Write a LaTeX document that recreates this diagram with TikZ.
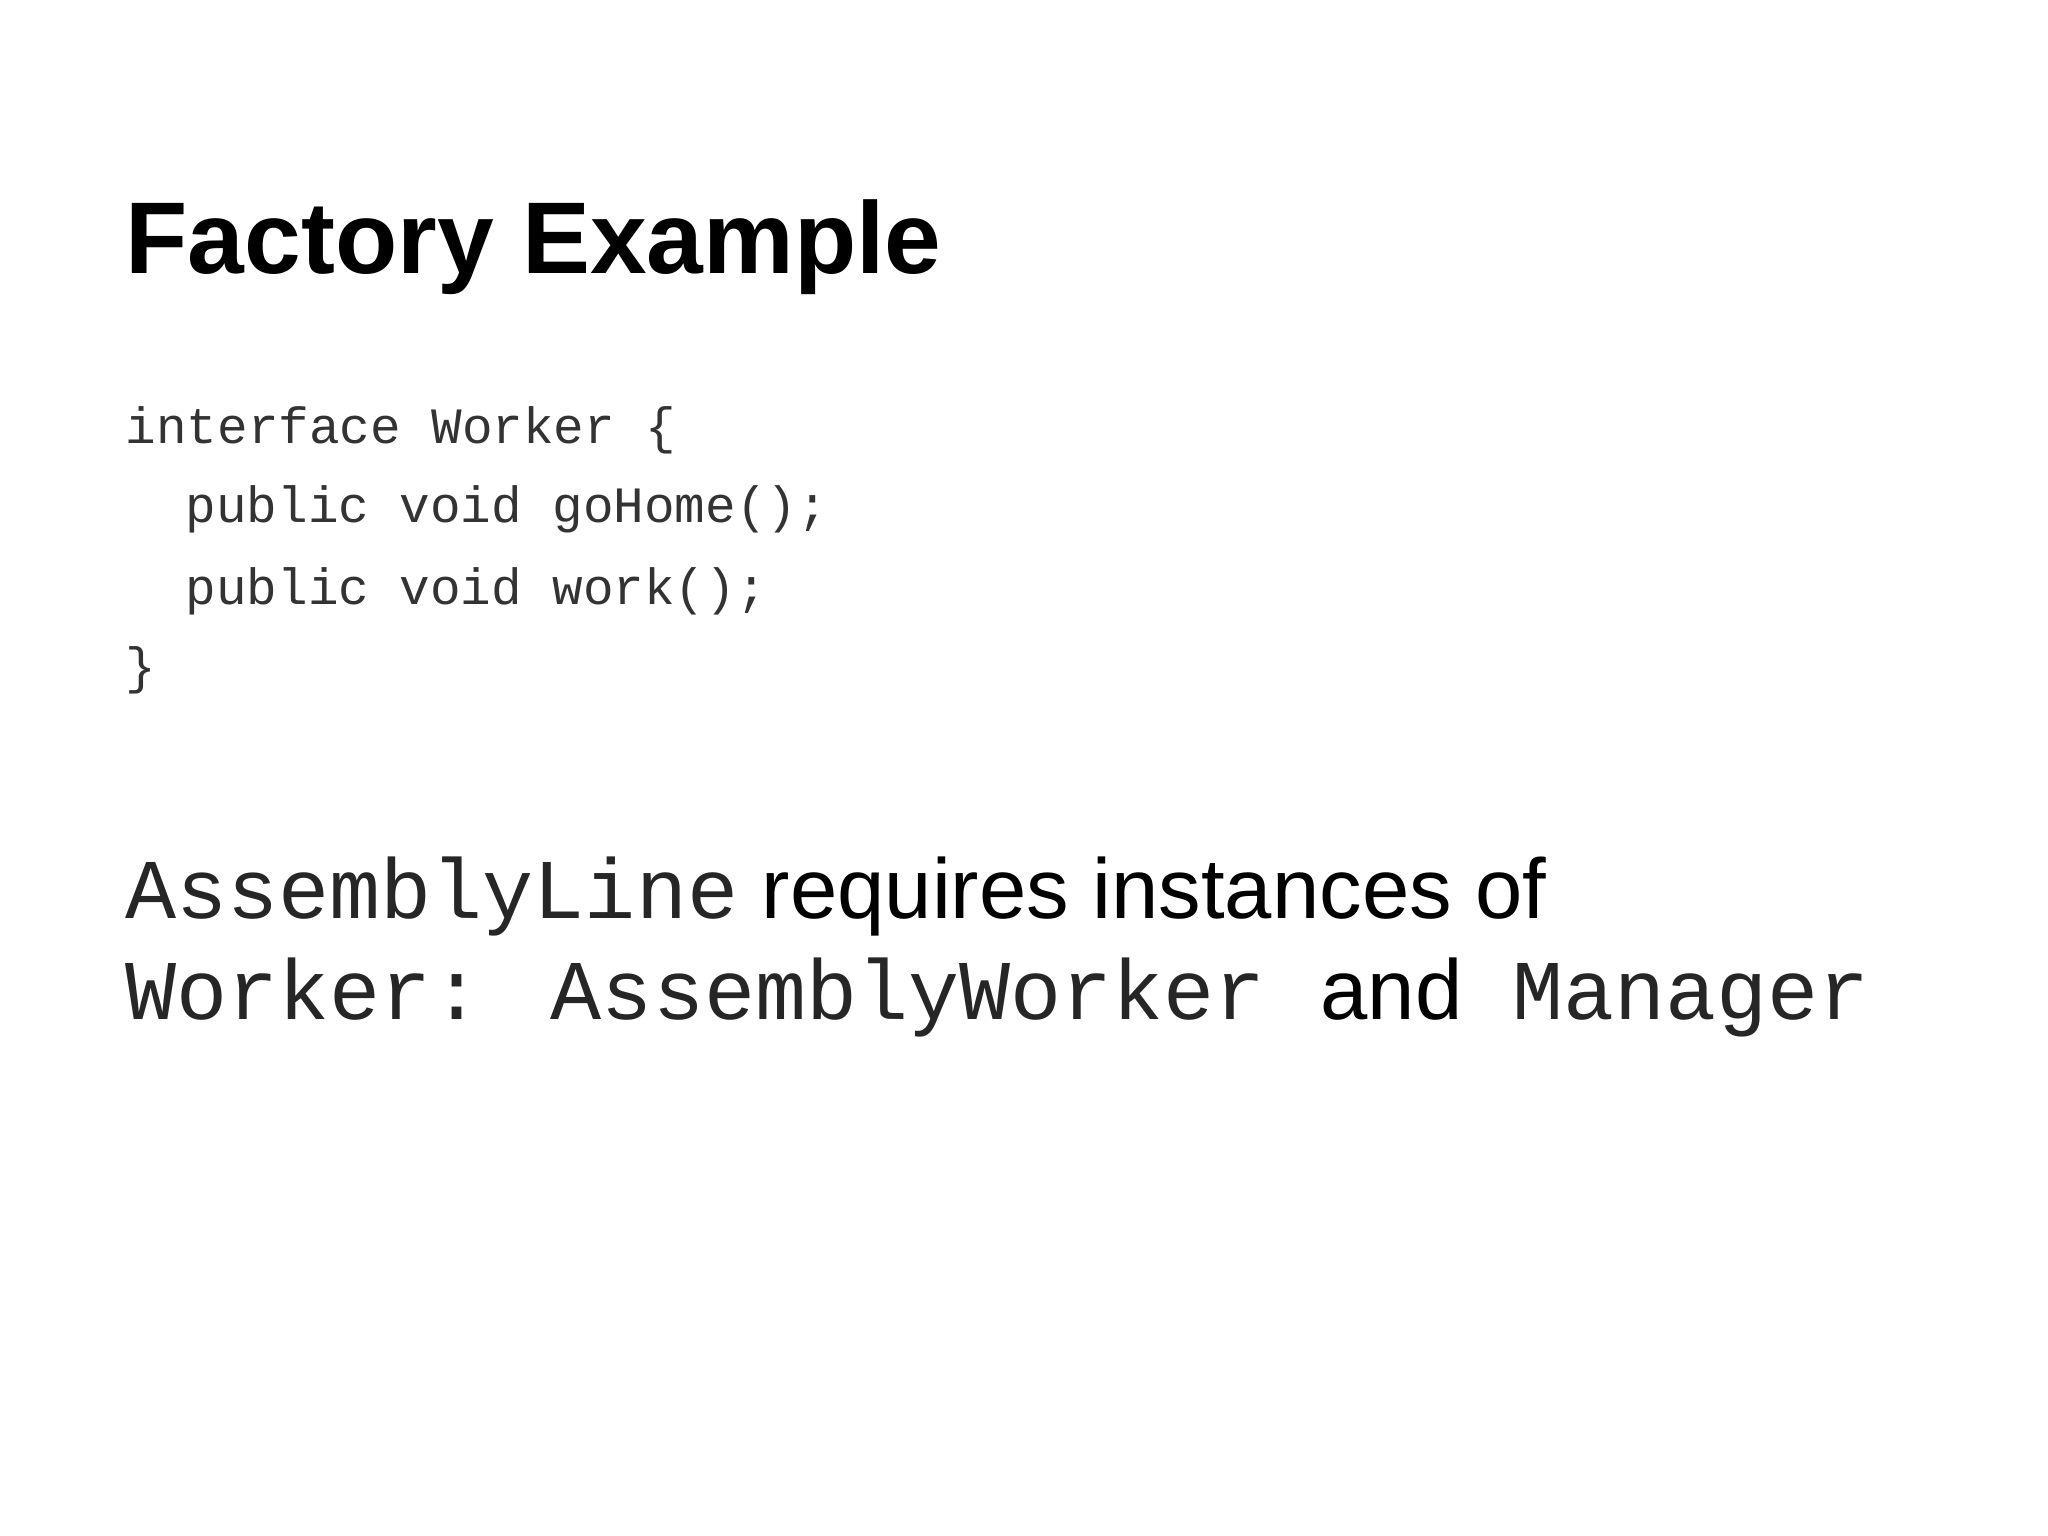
\documentclass[tikz,border=0pt]{standalone}
\usepackage{fontspec}
\setmainfont{Liberation Sans}
\newfontfamily\codefont{Liberation Mono}
\begin{document}
\begin{tikzpicture}
\useasboundingbox (0,0) rectangle (20.48,-15.36);
\tikzset{txt/.style={anchor=base west,inner sep=0pt}}
\node[txt,font=\fontsize{29}{34}\selectfont\bfseries] (title) at (1.25,-2.74) {Factory Example};
\node[txt,font=\fontsize{14.5}{17}\codefont,text=black!80] (c1) at (1.25,-4.44) {interface Worker \{};
\node[txt,font=\fontsize{14.5}{17}\codefont,text=black!80] (c2) at (1.85,-5.23) {public void goHome();};
\node[txt,font=\fontsize{14.5}{17}\codefont,text=black!80] (c3) at (1.85,-6.04) {public void work();};
\node[txt,font=\fontsize{14.5}{17}\codefont,text=black!80] (c4) at (1.25,-6.83) {\}};
\node[txt,font=\fontsize{24.2}{29}\selectfont] (l1) at (1.25,-9.18) {{\codefont\color{black!85}AssemblyLine} requires instances of};
\node[txt,font=\fontsize{24.2}{29}\selectfont] (l2) at (1.25,-10.2) {{\codefont\color{black!85}Worker: AssemblyWorker}\hspace{0.55cm}and\hspace{0.5cm}{\codefont\color{black!85}Manager}};
\end{tikzpicture}
\end{document}
